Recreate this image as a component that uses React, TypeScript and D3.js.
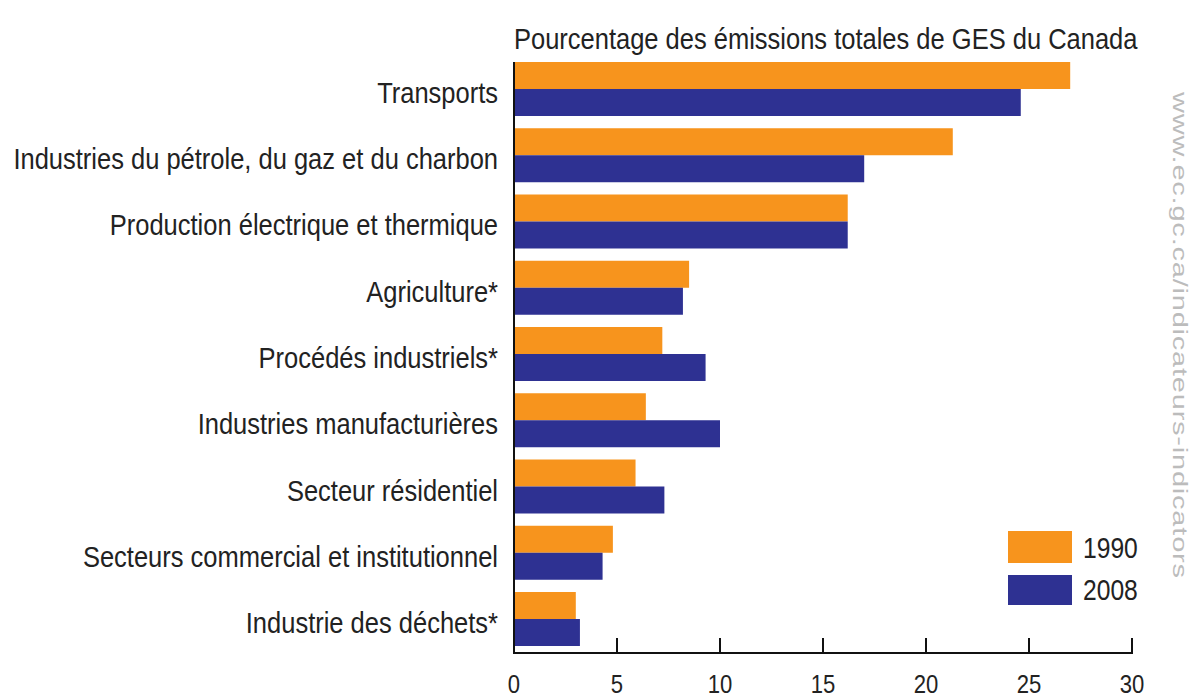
import React from 'react';
import * as d3 from 'd3';

const categories = [
  'Transports',
  'Industries du pétrole, du gaz et du charbon',
  'Production électrique et thermique',
  'Agriculture*',
  'Procédés industriels*',
  'Industries manufacturières',
  'Secteur résidentiel',
  'Secteurs commercial et institutionnel',
  'Industrie des déchets*',
];
const years = ['1990', '2008'];
const values1990 = [27.0, 21.3, 16.2, 8.5, 7.2, 6.4, 5.9, 4.8, 3.0];
const values2008 = [24.6, 17.0, 16.2, 8.2, 9.3, 10.0, 7.3, 4.3, 3.2];
const xTicks = [0, 5, 10, 15, 20, 25, 30];

const colors = ['#f7941d', '#2e3192'];
const font = '"Liberation Sans", Arial, sans-serif';
const squeeze = 0.85; // the source image is horizontally condensed

// text drawn with a horizontal squeeze, anchored at (x, y)
function Label({ x, y, size, anchor = 'start', fill = '#222', children }: any) {
  return (
    <g transform={`translate(${x},${y}) scale(${squeeze},1)`}>
      <text textAnchor={anchor} fontFamily={font} fontSize={size} fill={fill}>
        {children}
      </text>
    </g>
  );
}

export default function App() {
  const width = 1192;
  const height = 698;
  const x = d3.scaleLinear().domain([0, 30]).range([514, 1132]);
  const y = d3.scaleBand<string>().domain(categories).range([62, 646]).paddingInner(0.185);
  const sub = d3.scaleBand<string>().domain(years).range([0, y.bandwidth()]);
  const series = [values1990, values2008];
  const axisY = 653;

  return (
    <svg width={width} height={height} style={{ position: 'absolute', left: 0, top: 0, background: '#fff' }}>
      <Label x={514} y={49} size={30}>
        Pourcentage des émissions totales de GES du Canada
      </Label>

      {categories.map((c, i) => (
        <g key={c}>
          {years.map((yr, j) => (
            <rect
              key={yr}
              x={x(0)}
              y={(y(c) as number) + (sub(yr) as number)}
              width={x(series[j][i]) - x(0)}
              height={sub.bandwidth()}
              fill={colors[j]}
            />
          ))}
          <Label x={498} y={(y(c) as number) + y.bandwidth() / 2 + 14} size={30} anchor="end">
            {c}
          </Label>
        </g>
      ))}

      {/* axes */}
      <line x1={x(0)} x2={x(0)} y1={62} y2={axisY} stroke="#111" strokeWidth={2} />
      <line x1={x(0) - 1} x2={x(30) + 1} y1={axisY} y2={axisY} stroke="#111" strokeWidth={2} />
      {xTicks.map((t) => (
        <g key={t}>
          {t > 0 && <line x1={x(t)} x2={x(t)} y1={axisY - 15} y2={axisY} stroke="#111" strokeWidth={2} />}
          <Label x={x(t)} y={693} size={26} anchor="middle">
            {t}
          </Label>
        </g>
      ))}

      {/* legend */}
      {years.map((yr, j) => (
        <g key={yr}>
          <rect x={1008} y={531 + j * 44} width={64} height={j === 0 ? 32 : 30} fill={colors[j]} />
          <Label x={1083} y={558 + j * 42} size={29}>
            {yr}
          </Label>
        </g>
      ))}

      <g transform="translate(1173, 92) scale(0.7, 1) rotate(90)">
        <text x={0} y={0} fontFamily={font} fontSize={29} fill="#bcbcbc" textLength={486}>
          www.ec.gc.ca/indicateurs-indicators
        </text>
      </g>
    </svg>
  );
}
